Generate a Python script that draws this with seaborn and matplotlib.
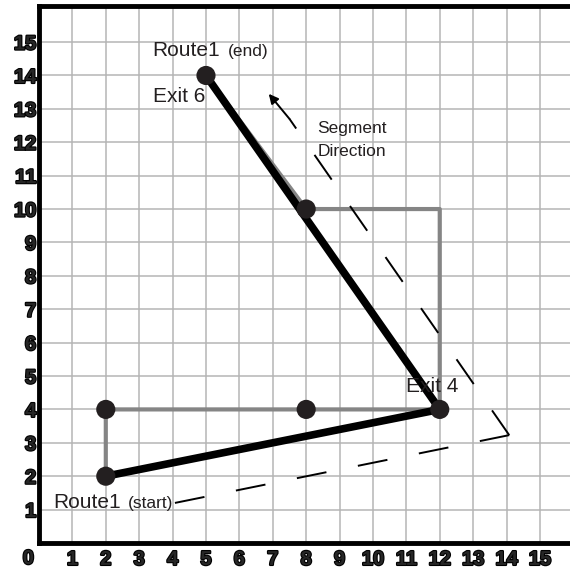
import matplotlib
matplotlib.use("Agg")
import matplotlib.pyplot as plt
import matplotlib.patheffects as pe
import seaborn as sns
import pandas as pd

sns.set_style("white")
plt.rcParams['font.family'] = ['Liberation Sans', 'DejaVu Sans']

# gray route (segments travelled)
gray_x = [2, 2, 8, 12, 12, 8, 5]
gray_y = [2, 4, 4, 4, 10, 10, 14]
# black route (straight segments)
black_x = [2, 12, 5]
black_y = [2, 4, 14]
# dots
dot_x = [2, 2, 8, 12, 8, 5]
dot_y = [2, 4, 4, 4, 10, 14]
# segment direction guide (dashed), two legs meeting at the corner
leg1_x = [4.07, 14.08]
leg1_y = [1.2, 3.23]
leg2_x = [14.08, 7.5]
leg2_y = [3.23, 12.7]
arrow_tip = (6.88, 13.45)
ticks = list(range(1, 16))

gray = pd.DataFrame({"x": gray_x, "y": gray_y})
black = pd.DataFrame({"x": black_x, "y": black_y})
dots = pd.DataFrame({"x": dot_x, "y": dot_y})

fig = plt.figure(figsize=(5.70, 5.71), dpi=100)
ax = fig.add_axes([39 / 570, 28 / 571, 531 / 570, 537 / 571])

sns.lineplot(data=gray, x="x", y="y", sort=False, estimator=None, color="#858585",
             lw=3, ax=ax, zorder=3)
sns.lineplot(data=black, x="x", y="y", sort=False, estimator=None, color="black",
             lw=5.5, ax=ax, zorder=4, solid_capstyle="round")
for lx, ly in [(leg1_x, leg1_y), (leg2_x, leg2_y)]:
    sns.lineplot(x=lx, y=ly, sort=False, estimator=None, color="black",
                 lw=1.4, ax=ax, zorder=4, linestyle=(0, (15.5, 16.5)))
sns.scatterplot(data=dots, x="x", y="y", color="#231f20", s=190, edgecolor="none",
                ax=ax, zorder=5)
ax.annotate("", xy=arrow_tip, xytext=(leg2_x[-1], leg2_y[-1]),
            arrowprops=dict(arrowstyle="-|>", color="black", lw=1.4,
                            mutation_scale=14, shrinkA=0, shrinkB=0), zorder=4)

ax.set_xlim(0, 15.9)
ax.set_ylim(0, 16.08)
ax.set_xticks(ticks)
ax.set_yticks(ticks)
ax.grid(True, color="#b5b5b5", lw=1.1)
ax.set_axisbelow(True)
ax.set_xlabel("")
ax.set_ylabel("")

bold = [pe.withStroke(linewidth=1.6, foreground="black")]
ax.tick_params(length=0, pad=5)
for lab in ax.get_xticklabels() + ax.get_yticklabels():
    lab.set_fontsize(14.5)
    lab.set_fontweight("bold")
    lab.set_path_effects(bold)
ax.tick_params(axis="y", pad=2)
ax.text(-0.32, -0.18, "0", ha="center", va="top", fontsize=14.5, fontweight="bold",
        path_effects=bold, transform=ax.transData, clip_on=False)

for side in ["left", "bottom", "top"]:
    ax.spines[side].set_linewidth(3.5)
    ax.spines[side].set_color("black")
ax.spines["right"].set_visible(False)

txt = "#231f20"
ax.text(3.38, 14.58, "Route1", fontsize=15, color=txt)
ax.text(5.66, 14.58, "(end)", fontsize=12.5, color=txt)
ax.text(3.4, 13.21, "Exit 6", fontsize=15, color=txt)
ax.text(8.34, 12.27, "Segment", fontsize=12.5, color=txt)
ax.text(8.34, 11.59, "Direction", fontsize=12.5, color=txt)
ax.text(11.0, 4.53, "Exit 4", fontsize=15, color=txt, zorder=6)
ax.text(0.43, 1.05, "Route1", fontsize=15, color=txt)
ax.text(2.67, 1.05, "(start)", fontsize=12.5, color=txt)

fig.savefig("out.png", dpi=100)
